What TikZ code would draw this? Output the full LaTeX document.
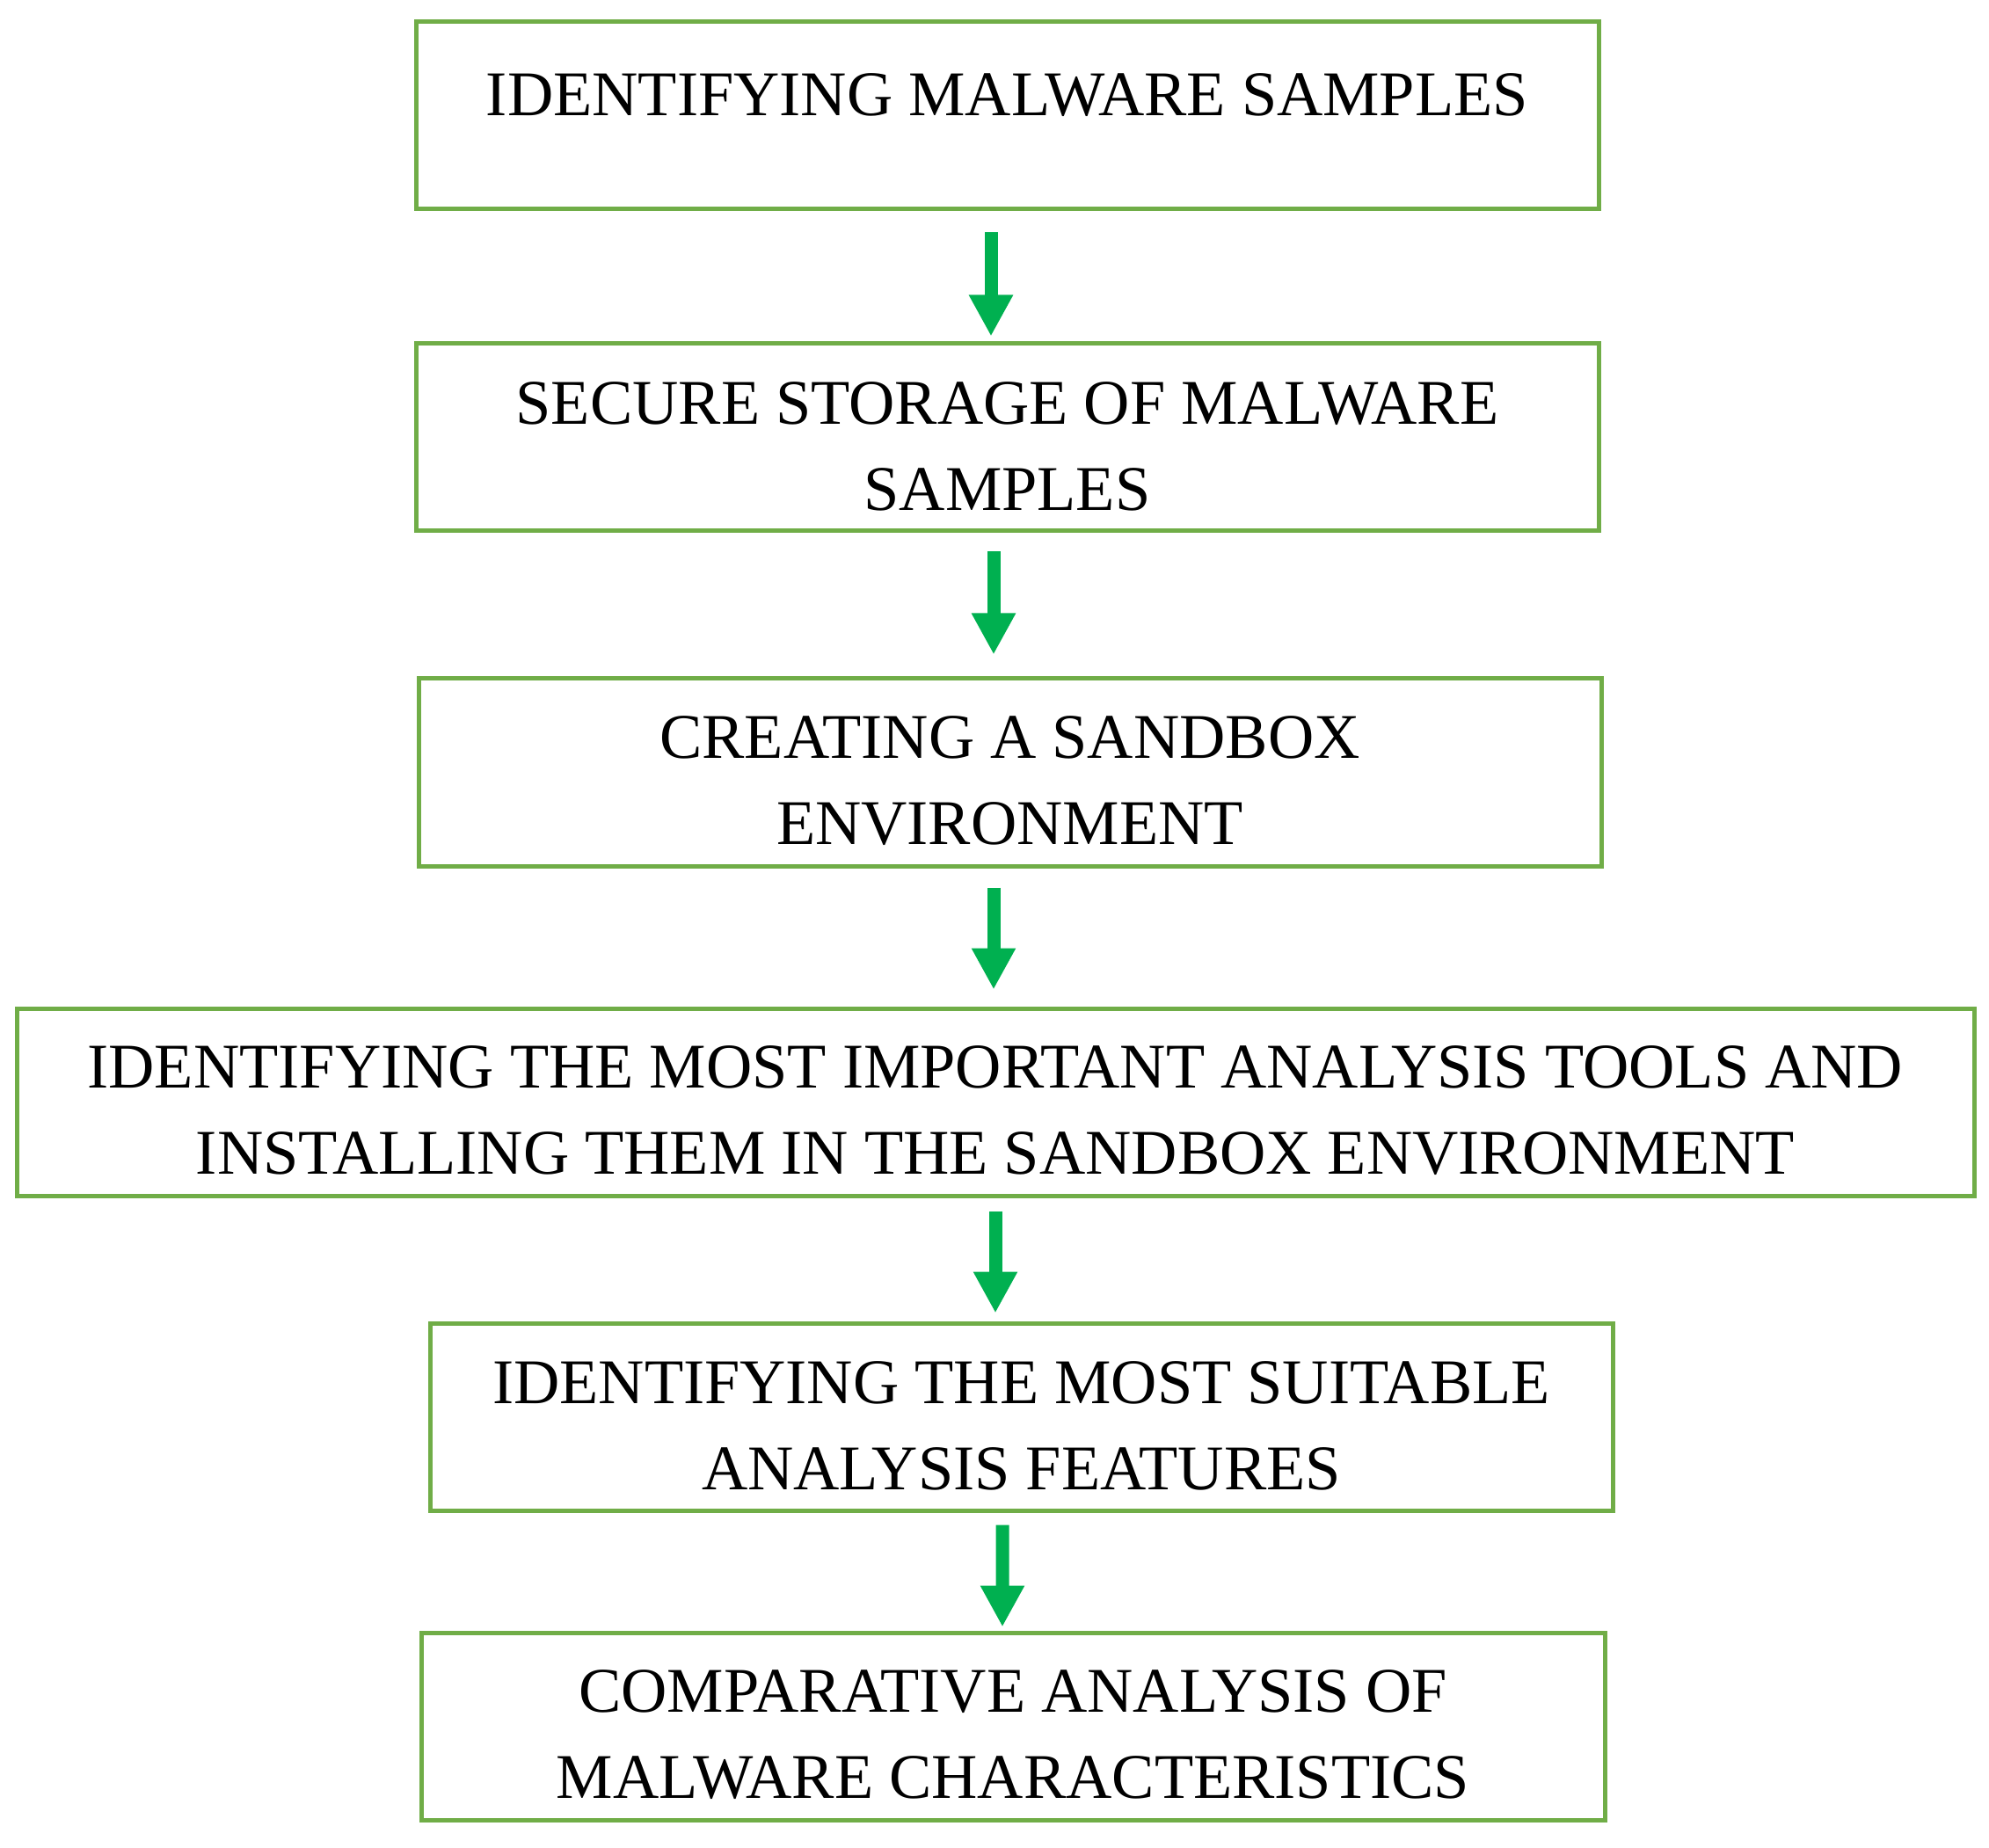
\documentclass[tikz,border=0pt]{standalone}
\usepackage{fontspec}
\setmainfont{Liberation Serif}
\usepackage{xcolor}
\usetikzlibrary{
    arrows.meta,
    positioning
}
\definecolor{boxgreen}{HTML}{70AD47}
\definecolor{arrowgreen}{HTML}{00B050}

\begin{document}
\begin{tikzpicture}[
    stage/.style={
        rectangle,
        draw=boxgreen,
        line width=0.05cm,
        minimum width=13.45cm,
        minimum height=2.13cm,
        inner sep=0pt,
        text height=1.66cm,
        align=center,
        font=\fontsize{20.6pt}{27.9pt}\selectfont
    },
    arrow/.style={-{Triangle[width=0.47cm,length=0.47cm]}, line width=0.15cm, draw=arrowgreen}
]

\fill[white] (0,0) rectangle (22.62,-21.02);
\useasboundingbox (0,0) rectangle (22.62,-21.02);

% Etapas
\node[stage, text height=0pt, text depth=0pt] (samples) at (11.455,-1.315) {IDENTIFYING MALWARE SAMPLES};
\node[stage] (storage) at (11.455,-4.975) {SECURE STORAGE OF MALWARE\\SAMPLES};
\node[stage] (sandbox) at (11.485,-8.785) {CREATING A SANDBOX\\ENVIRONMENT};
\node[stage, minimum width=22.26cm] (tools) at (11.32,-12.535) {IDENTIFYING THE MOST IMPORTANT ANALYSIS TOOLS AND\\INSTALLING THEM IN THE SANDBOX ENVIRONMENT};
\node[stage] (features) at (11.615,-16.115) {IDENTIFYING THE MOST SUITABLE\\ANALYSIS FEATURES};
\node[stage, minimum width=13.46cm] (compare) at (11.52,-19.635) {COMPARATIVE ANALYSIS OF\\MALWARE CHARACTERISTICS};

% Flechas
\draw[arrow] ([xshift=-0.185cm, yshift=-0.24cm]samples.south) -- ([xshift=-0.185cm, yshift=0.06cm]storage.north);
\draw[arrow] ([xshift=-0.155cm, yshift=-0.21cm]storage.south) -- ([xshift=-0.185cm, yshift=0.25cm]sandbox.north);
\draw[arrow] ([xshift=-0.185cm, yshift=-0.22cm]sandbox.south) -- ([xshift=-0.02cm, yshift=0.19cm]tools.north);
\draw[arrow] ([yshift=-0.15cm]tools.south) -- ([xshift=-0.295cm, yshift=0.09cm]features.north);
\draw[arrow] ([xshift=-0.215cm, yshift=-0.14cm]features.south) -- ([xshift=-0.12cm, yshift=0.04cm]compare.north);

\end{tikzpicture}
\end{document}
